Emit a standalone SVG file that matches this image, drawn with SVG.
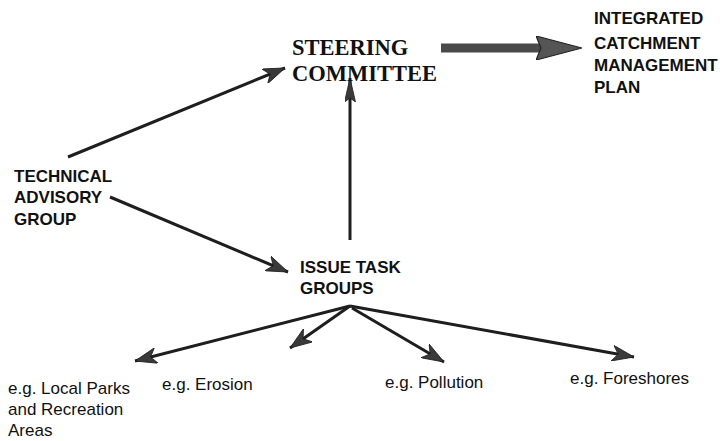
<svg xmlns="http://www.w3.org/2000/svg" width="720" height="441" viewBox="0 0 720 441">
<style>
.bold{font-family:"Liberation Sans",Arial,sans-serif;font-weight:bold;font-size:17px;fill:#111}
.reg{font-family:"Liberation Sans",Arial,sans-serif;font-size:17px;fill:#111}
.serif{font-family:"Liberation Serif","Times New Roman",serif;font-weight:bold;font-size:22.5px;fill:#111}
.ln{stroke:#1e1e1e;stroke-width:3;fill:none}
</style>
<defs>
<marker id="ah" viewBox="0 0 22 16" refX="22" refY="8" markerWidth="22" markerHeight="16" markerUnits="userSpaceOnUse" orient="auto">
<path d="M0,0 L22,8 L0,16 L6,8 Z" fill="#3a3a3a" stroke="#1e1e1e" stroke-width="0.8"/>
</marker>
<marker id="ahn" viewBox="0 0 24 11" refX="24" refY="5.5" markerWidth="24" markerHeight="11" markerUnits="userSpaceOnUse" orient="auto">
<path d="M0,0 L24,5.5 L0,11 L4,5.5 Z" fill="#3a3a3a" stroke="#1e1e1e" stroke-width="0.8"/>
</marker>
<marker id="big" viewBox="0 0 46 24" refX="9" refY="12" markerWidth="46" markerHeight="24" markerUnits="userSpaceOnUse" orient="auto">
<path d="M0,0 L46,12 L0,24 L5,12 Z" fill="#555" stroke="#222" stroke-width="1.2"/>
</marker>
</defs>
<rect width="720" height="441" fill="#ffffff"/>
<g id="connectors">
<path class="ln" d="M441,48 L545,48" style="stroke:#4a4a4a;stroke-width:9" marker-end="url(#big)"/>
<path class="ln" d="M68,157 L285,68" marker-end="url(#ah)"/>
<path class="ln" d="M110,197 L288,272" marker-end="url(#ah)"/>
<path class="ln" d="M350,240 L350,78" marker-end="url(#ahn)"/>
<path class="ln" d="M350,306 L135,361" marker-end="url(#ah)"/>
<path class="ln" d="M350,306 L290,348" marker-end="url(#ah)"/>
<path class="ln" d="M352,308 L444,362" marker-end="url(#ah)"/>
<path class="ln" d="M350,306 L634,357" marker-end="url(#ah)"/>
</g>
<g id="steering-committee">
<text class="serif" x="292" y="55">STEERING</text>
<text class="serif" x="292" y="81">COMMITTEE</text>
</g>
<g id="icmp">
<text class="bold" x="594" y="24">INTEGRATED</text>
<text class="bold" x="594" y="49">CATCHMENT</text>
<text class="bold" x="594" y="71">MANAGEMENT</text>
<text class="bold" x="594" y="93">PLAN</text>
</g>
<g id="technical-advisory-group">
<text class="bold" x="14" y="182">TECHNICAL</text>
<text class="bold" x="14" y="203">ADVISORY</text>
<text class="bold" x="14" y="225">GROUP</text>
</g>
<g id="issue-task-groups">
<text class="bold" x="300" y="273">ISSUE TASK</text>
<text class="bold" x="300" y="294">GROUPS</text>
</g>
<g id="local-parks">
<text class="reg" x="8" y="394">e.g. Local Parks</text>
<text class="reg" x="8" y="415">and Recreation</text>
<text class="reg" x="8" y="436">Areas</text>
</g>
<g id="erosion"><text class="reg" x="162" y="390">e.g. Erosion</text></g>
<g id="pollution"><text class="reg" x="385" y="388">e.g. Pollution</text></g>
<g id="foreshores"><text class="reg" x="570" y="384">e.g. Foreshores</text></g>
</svg>
